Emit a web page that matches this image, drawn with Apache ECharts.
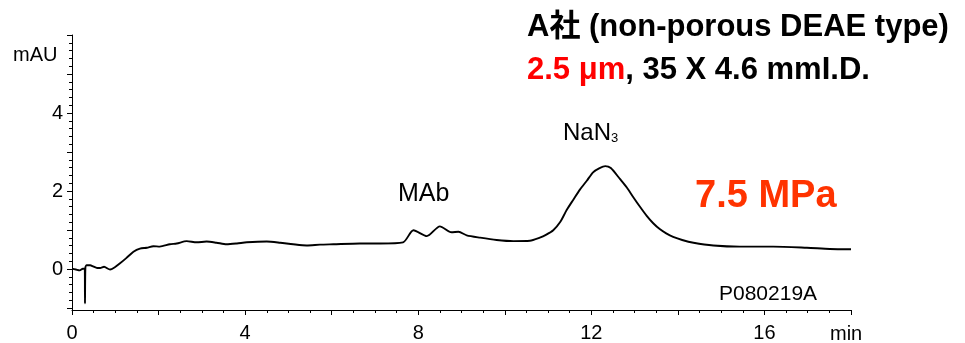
<!DOCTYPE html>
<html>
<head>
<meta charset="utf-8">
<script src="https://cdn.jsdelivr.net/npm/echarts@6/dist/echarts.min.js"></script>
<style>
  html, body { margin: 0; padding: 0; background: #fff; }
  #chart { width: 965px; height: 343px; }
</style>
</head>
<body>
<div id="chart"></div>
<script>
// Retention time (min) and absorbance (mAU) of the chromatogram trace
const times = [0.0, 0.09, 0.18, 0.25, 0.295, 0.30, 0.31, 0.34, 0.37, 0.42, 0.49, 0.58, 0.65, 0.74, 0.88, 0.99,
  1.11, 1.26, 1.42, 1.57, 1.73, 1.88, 2.03, 2.26, 2.42, 2.65, 2.88, 3.11, 3.34, 3.57, 3.81, 4.04,
  4.50, 4.81, 5.11, 5.42, 5.73, 6.04, 6.65, 7.12,
  7.65, 7.89, 8.20, 8.50, 8.77, 8.93, 9.12, 9.43, 9.81, 10.20, 10.58, 10.81, 10.95, 11.12, 11.28,
  11.43, 11.58, 11.74, 11.90, 12.04, 12.18, 12.32, 12.45, 12.66, 12.82, 12.97, 13.12, 13.28, 13.43,
  13.58, 13.73, 13.89, 14.10, 14.36, 14.82, 15.43, 16.20, 16.98, 17.51, 18.0];
const absorbance = [-0.01, -0.03, -0.05, -0.01, -0.01, -0.90, 0.03, 0.08, 0.08, 0.08, 0.05, 0.01, 0.01, 0.04, -0.03, 0.03,
  0.13, 0.27, 0.43, 0.51, 0.53, 0.57, 0.56, 0.62, 0.64, 0.70, 0.67, 0.69, 0.66, 0.62, 0.64, 0.67,
  0.69, 0.66, 0.62, 0.59, 0.61, 0.62, 0.64, 0.64,
  0.67, 0.98, 0.83, 1.08, 0.93, 0.94, 0.85, 0.79, 0.73, 0.70, 0.71, 0.79, 0.86, 0.98, 1.19,
  1.50, 1.76, 2.03, 2.26, 2.47, 2.57, 2.63, 2.58, 2.30, 2.08, 1.83, 1.59, 1.35, 1.16,
  1.01, 0.90, 0.81, 0.73, 0.66, 0.59, 0.56, 0.56, 0.53, 0.50, 0.49];

// Axis ranges and labelled ticks
const xRange = [0, 18];
const xLabels = [0, 4, 8, 12, 16];
const yRange = [-1.07, 6];
const yTickRange = [-1, 6];
const yLabels = [0, 2, 4];

const FONT = "'Liberation Sans', Arial, 'Noto Sans CJK JP', sans-serif";
const chart = echarts.init(document.getElementById('chart'), null, { renderer: 'canvas' });

const trace = times.map((t, i) => [t, absorbance[i]]);

function textTitle(text, left, top, size, style) {
  return {
    text: text,
    left: left,
    top: top,
    padding: 0,
    textStyle: Object.assign({
      fontFamily: FONT,
      fontSize: size,
      lineHeight: size,
      fontWeight: 'normal',
      color: '#000'
    }, style || {})
  };
}

const option = {
  animation: false,
  backgroundColor: '#fff',
  title: [
    textTitle('A社 (non-porous DEAE type)', 527, 12, 31, { fontWeight: 'bold' }),
    textTitle('{r|2.5 μm}, 35 X 4.6 mmI.D.', 527, 55, 31, {
      fontWeight: 'bold',
      rich: { r: { color: '#ff0000', fontFamily: FONT, fontSize: 31, fontWeight: 'bold', lineHeight: 31 } }
    }),
    textTitle('7.5 MPa', 695, 178, 38, { fontWeight: 'bold', color: '#ff3300' }),
    textTitle('MAb', 398, 182, 25),
    textTitle('NaN{s|3}', 563, 121, 24, {
      rich: { s: { fontFamily: FONT, fontSize: 13, lineHeight: 24, verticalAlign: 'bottom', padding: [9, 0, 0, 0] } }
    }),
    textTitle('P080219A', 719, 284, 21),
    textTitle('mAU', 13, 45, 20),
    textTitle('min', 830, 324, 20)
  ],
  grid: [
    { left: 72, right: 114, top: 35, bottom: 32.3, containLabel: false },
    { left: 72, right: 114, top: 35, bottom: 35, containLabel: false }
  ],
  xAxis: [
    {
      type: 'value', gridIndex: 0, min: xRange[0], max: xRange[1], interval: 2,
      axisLine: { show: true, onZero: false, lineStyle: { color: '#000', width: 1 } },
      axisTick: { show: true, length: 5, lineStyle: { color: '#000', width: 1 } },
      minorTick: { show: true, splitNumber: 4, length: 3, lineStyle: { color: '#000', width: 1 } },
      splitLine: { show: false },
      axisLabel: {
        margin: 13, color: '#000', fontFamily: FONT, fontSize: 20,
        formatter: v => (xLabels.indexOf(v) >= 0 ? String(v) : '')
      }
    },
    { type: 'value', gridIndex: 1, min: xRange[0], max: xRange[1], show: false }
  ],
  yAxis: [
    {
      type: 'value', gridIndex: 0, min: yRange[0], max: yRange[1],
      axisLine: { show: true, onZero: false, lineStyle: { color: '#000', width: 1 } },
      axisTick: { show: false }, axisLabel: { show: false }, splitLine: { show: false }
    },
    {
      type: 'value', gridIndex: 1, min: yTickRange[0], max: yTickRange[1], interval: 1,
      axisLine: { show: false },
      axisTick: { show: true, length: 5, lineStyle: { color: '#000', width: 1 } },
      minorTick: { show: true, splitNumber: 5, length: 3, lineStyle: { color: '#000', width: 1 } },
      splitLine: { show: false },
      axisLabel: {
        margin: 9, color: '#000', fontFamily: FONT, fontSize: 20,
        formatter: v => (yLabels.indexOf(v) >= 0 ? String(v) : '')
      }
    }
  ],
  series: [
    {
      type: 'line', xAxisIndex: 0, yAxisIndex: 0, data: trace,
      showSymbol: false, smooth: 0.25, clip: false,
      lineStyle: { color: '#000', width: 1.9 }
    }
  ]
};

chart.setOption(option);
</script>
</body>
</html>
